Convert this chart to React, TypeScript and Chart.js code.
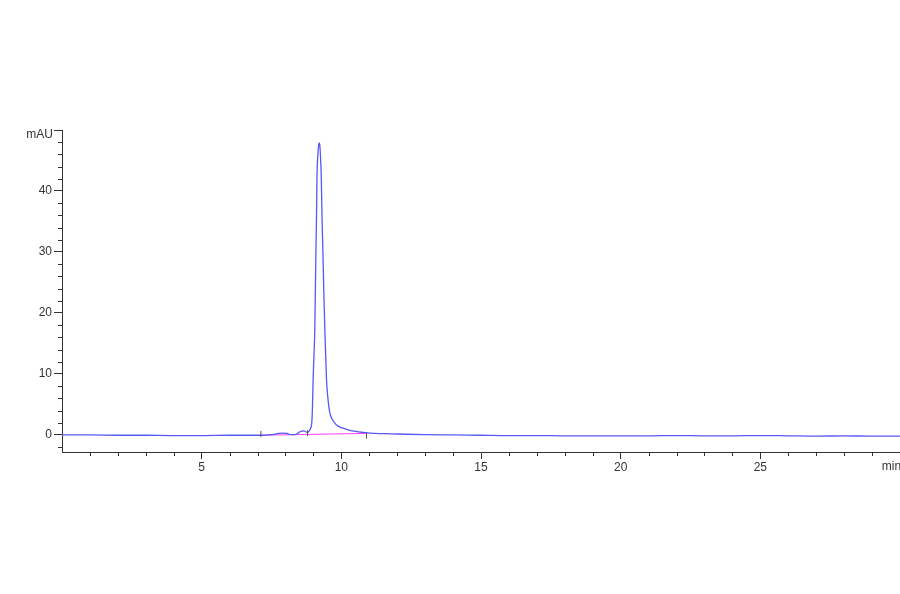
import React, { useEffect, useRef } from 'react';
import { Chart, registerables } from 'chart.js';

Chart.register(...registerables);

// retention time (min) and absorbance (mAU)
const times = [
  0, 1, 2, 3, 4, 5, 6, 6.5, 7, 7.12, 7.4, 7.6, 7.75, 7.9, 8.05, 8.2, 8.35, 8.45, 8.55, 8.65,
  8.75, 8.82, 8.87, 8.91, 8.94, 8.96, 8.99, 9.02, 9.05, 9.09, 9.11, 9.13, 9.16, 9.19, 9.21,
  9.23, 9.25, 9.28, 9.31, 9.34, 9.37, 9.41, 9.44, 9.47, 9.52, 9.59, 9.67, 9.77, 9.9, 10.06,
  10.3, 10.54, 10.8, 11.02, 11.5, 12, 13, 14, 15, 16, 17, 18, 19, 20, 21, 22, 23, 24, 25, 26,
  27, 28, 29, 30,
];
const signal = [
  0, 0, -0.05, -0.05, -0.1, -0.1, -0.05, -0.05, -0.05, -0.05, 0, 0.1, 0.25, 0.3, 0.25, 0.05,
  0.05, 0.3, 0.6, 0.65, 0.45, 0.5, 0.8, 1.2, 1.9, 3.6, 9.0, 13, 17.2, 30, 35.5, 42.6, 46,
  47.6, 47.9, 47.5, 46, 42.6, 35.5, 30, 24, 17.2, 13, 9.0, 6.0, 3.6, 2.6, 1.9, 1.4, 1.1,
  0.75, 0.55, 0.4, 0.28, 0.2, 0.15, 0.05, 0, -0.05, -0.1, -0.1, -0.15, -0.15, -0.15, -0.15,
  -0.1, -0.15, -0.15, -0.1, -0.15, -0.2, -0.15, -0.2, -0.2,
];

// integration baseline and event marks
const baselineTimes = [7.12, 10.9];
const baselineValues = [-0.05, 0.25];
const eventTimes = [7.12, 8.79, 10.9];
const eventLevels = [0.15, 0.3, -0.15];

const xMajor = [5, 10, 15, 20, 25];
const yMajor = [0, 10, 20, 30, 40, 50];

const AXIS = '#333';
const FONT = { family: '"Liberation Sans", Arial, sans-serif', size: 12 };

// short minor tick marks and the unit labels, drawn from the scales
const minorTicks = {
  id: 'minorTicks',
  afterDraw(chart: any) {
    const { ctx, scales } = chart;
    const x = scales.x;
    const y = scales.y;
    ctx.save();
    ctx.strokeStyle = AXIS;
    ctx.lineWidth = 1;
    ctx.beginPath();
    for (let v = 1; v < 30; v++) {
      if (v % 5 === 0) continue;
      const px = Math.round(x.getPixelForValue(v)) + 0.5;
      ctx.moveTo(px, x.top);
      ctx.lineTo(px, x.top + 4);
    }
    for (let v = -2; v < 50; v += 2) {
      if (v % 10 === 0) continue;
      const py = Math.round(y.getPixelForValue(v)) + 0.5;
      ctx.moveTo(y.right, py);
      ctx.lineTo(y.right - 4, py);
    }
    ctx.stroke();
    ctx.fillStyle = AXIS;
    ctx.font = `${FONT.size}px ${FONT.family}`;
    ctx.textBaseline = 'middle';
    ctx.textAlign = 'left';
    ctx.fillText('min', x.getPixelForValue(29.35), x.top + 15);
    ctx.textAlign = 'right';
    ctx.fillText('mAU', y.right - 9, y.getPixelForValue(49.3));
    ctx.restore();
  },
};

const App: React.FC = () => {
  const canvasRef = useRef<HTMLCanvasElement>(null);
  const chartRef = useRef<Chart | null>(null);

  useEffect(() => {
    if (!canvasRef.current) return;
    if (chartRef.current) chartRef.current.destroy();

    chartRef.current = new Chart(canvasRef.current, {
      type: 'line',
      data: {
        datasets: [
          {
            label: 'baseline',
            data: baselineTimes.map((t, i) => ({ x: t, y: baselineValues[i] })),
            borderColor: '#ff40ff',
            borderWidth: 1,
            pointRadius: 0,
            order: 2,
          },
          {
            label: 'signal',
            data: times.map((t, i) => ({ x: t, y: signal[i] })),
            borderColor: 'rgb(88, 88, 248)',
            borderWidth: 1.3,
            pointRadius: 0,
            cubicInterpolationMode: 'monotone',
            order: 1,
          },
          {
            label: 'events',
            data: eventTimes.map((t, i) => ({ x: t, y: eventLevels[i] })),
            showLine: false,
            pointStyle: 'line',
            rotation: 90,
            pointRadius: 3,
            borderColor: '#555',
            borderWidth: 1,
            order: 0,
          },
        ],
      },
      options: {
        animation: false,
        responsive: false,
        layout: { autoPadding: false, padding: { left: 0, top: 130, right: 0, bottom: 112 } },
        plugins: { legend: { display: false }, tooltip: { enabled: false } },
        scales: {
          x: {
            type: 'linear',
            min: 0,
            max: 30,
            afterFit: (s: any) => {
              s.height = 30;
              s.paddingLeft = 0;
              s.paddingRight = 0;
            },
            afterBuildTicks: (s: any) => {
              s.ticks = [0, ...xMajor, 30].map((v) => ({ value: v }));
            },
            border: { color: AXIS, width: 1 },
            grid: {
              drawOnChartArea: false,
              tickLength: 7,
              tickColor: (c: any) =>
                c.tick && (c.tick.value === 0 || c.tick.value === 30) ? 'rgba(0,0,0,0)' : AXIS,
            },
            ticks: {
              autoSkip: false,
              maxRotation: 0,
              padding: 1,
              color: AXIS,
              font: FONT,
              callback: (v: any) => (xMajor.includes(v) ? String(v) : ''),
            },
          },
          y: {
            type: 'linear',
            min: -2.8,
            max: 50,
            afterFit: (s: any) => {
              s.width = 62;
              s.paddingTop = 0;
              s.paddingBottom = 0;
            },
            afterBuildTicks: (s: any) => {
              s.ticks = yMajor.map((v) => ({ value: v }));
            },
            border: { color: AXIS, width: 1 },
            grid: { drawOnChartArea: false, tickLength: 8, tickColor: AXIS },
            ticks: {
              autoSkip: false,
              padding: 2,
              color: AXIS,
              font: FONT,
              callback: (v: any) => (v === 50 ? '' : String(v)),
            },
          },
        },
      },
      plugins: [minorTicks],
    });

    return () => {
      if (chartRef.current) {
        chartRef.current.destroy();
        chartRef.current = null;
      }
    };
  }, []);

  return (
    <div style={{ position: 'fixed', left: 0, top: 0, width: 900, height: 594, background: '#fff' }}>
      <canvas ref={canvasRef} width={900} height={594} />
    </div>
  );
};

export default App;
